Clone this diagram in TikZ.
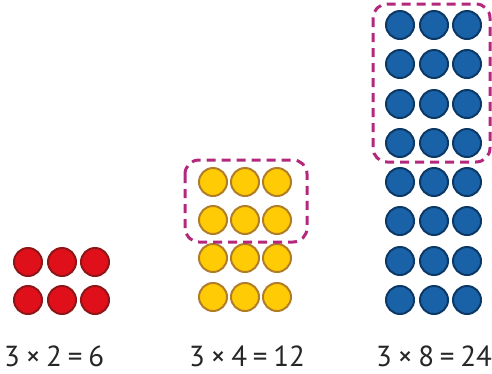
\documentclass[tikz,border=0pt]{standalone}
\usepackage{fontspec}
\setmainfont[WordSpace=0.75]{PT Sans}
\definecolor{redfill}{HTML}{E0101A}
\definecolor{redline}{HTML}{8E1518}
\definecolor{yelfill}{HTML}{FFCB05}
\definecolor{yelline}{HTML}{B07D28}
\definecolor{blufill}{HTML}{1A62A8}
\definecolor{bluline}{HTML}{0C3865}
\definecolor{grpline}{HTML}{B3287C}
\begin{document}
\begin{tikzpicture}[x=1pt,y=-1pt,
  counter/.style={circle,minimum size=28pt,inner sep=0pt,line width=2pt},
  redc/.style={counter,fill=redfill,draw=redline},
  yelc/.style={counter,fill=yelfill,draw=yelline},
  bluc/.style={counter,fill=blufill,draw=bluline},
  grp/.style={draw=grpline,line width=3pt,dash pattern=on 9pt off 6pt,rounded corners=14pt},
  eq/.style={anchor=base west,inner sep=0pt,font=\fontsize{29}{31}\selectfont,text=black!85}]
\useasboundingbox (0,0) rectangle (492,373);
% red 3 x 2
\foreach \r [count=\i] in {262,300}
  \foreach \c [count=\j] in {28,62,95}
    \node[redc] (r\i\j) at (\c,\r) {};
% yellow 3 x 4
\foreach \r [count=\i] in {182,220,258,297}
  \foreach \c [count=\j] in {213,245,277}
    \node[yelc] (y\i\j) at (\c,\r) {};
% blue 3 x 8
\foreach \r [count=\i] in {25,64,104,143,182,221,261,300}
  \foreach \c [count=\j] in {400,434,467}
    \node[bluc] (b\i\j) at (\c,\r) {};
% dashed groups
\draw[grp] (185,160) rectangle (307,242);
\draw[grp] (373,4) rectangle (490,162);
% equations
\node[eq] (e1) at (4,366) {3 × 2 = 6};
\node[eq] (e2) at (189,366) {3 × 4 = 12};
\node[eq] (e3) at (376,366) {3 × 8 = 24};
\end{tikzpicture}
\end{document}
